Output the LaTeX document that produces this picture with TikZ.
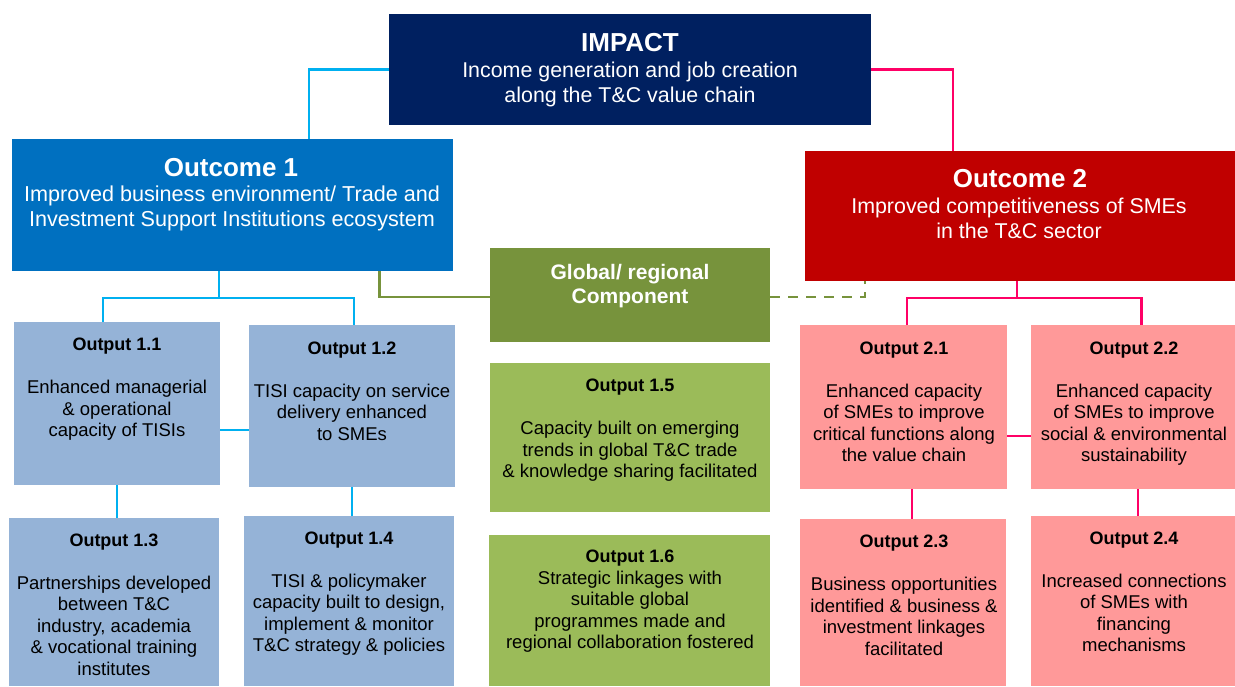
\documentclass[tikz,border=0pt]{standalone}
\usepackage{fontspec}
\setmainfont{Liberation Sans}

\definecolor{impnavy}{HTML}{002060}
\definecolor{oneblue}{HTML}{0070C0}
\definecolor{linkblue}{HTML}{00B0F0}
\definecolor{outblue}{HTML}{95B3D7}
\definecolor{globgreen}{HTML}{77933C}
\definecolor{outgreen}{HTML}{9BBB59}
\definecolor{twored}{HTML}{C00000}
\definecolor{linkpink}{HTML}{FF0066}
\definecolor{outpink}{HTML}{FF9999}

% invisible rule that fixes the height of a node's first line
\newcommand\tstr{\rule{0pt}{0.8em}}
\newcommand\otitle[1]{{\fontsize{18}{21.5}\selectfont\bfseries #1}}

\begin{document}
\begin{tikzpicture}[x=1pt,y=-1pt,
  box/.style={fill=#1, draw=none, inner sep=0pt, outer sep=0pt, anchor=north west},
  txt/.style={anchor=north, inner sep=0pt, outer sep=0pt, align=center},
  bigtitle/.style={txt, text=white, font=\fontsize{26}{30}\selectfont\bfseries},
  subtitle/.style={txt, text=white, font=\fontsize{#1}{25}\selectfont},
  body/.style={txt, text=black, font=\fontsize{18.5}{21.5}\selectfont},
  bl/.style={draw=linkblue, line width=2.2pt},
  pk/.style={draw=linkpink, line width=2.2pt},
  gn/.style={draw=globgreen, line width=2.2pt},
]
\useasboundingbox (0,0) rectangle (1235,686);

% ---- boxes ----
\node[box=impnavy, minimum width=482pt, minimum height=111pt] (imp) at (389,14) {};
\node[box=oneblue, minimum width=441pt, minimum height=132pt] (oc1) at (12,139) {};
\node[box=twored, minimum width=430pt, minimum height=130pt] (oc2) at (805,151) {};
\node[box=globgreen, minimum width=280pt, minimum height=94pt] (glob) at (490,248) {};

\node[box=outblue, minimum width=206pt, minimum height=163pt] (o11) at (14,322) {};
\node[box=outblue, minimum width=206pt, minimum height=162pt] (o12) at (249,325) {};
\node[box=outblue, minimum width=210pt, minimum height=168pt] (o13) at (9,518) {};
\node[box=outblue, minimum width=210pt, minimum height=170pt] (o14) at (244,516) {};

\node[box=outgreen, minimum width=280pt, minimum height=149pt] (o15) at (490,363) {};
\node[box=outgreen, minimum width=281pt, minimum height=151pt] (o16) at (489,535) {};

\node[box=outpink, minimum width=207pt, minimum height=164pt] (o21) at (800,325) {};
\node[box=outpink, minimum width=204pt, minimum height=164pt] (o22) at (1031,325) {};
\node[box=outpink, minimum width=206pt, minimum height=167pt] (o23) at (800,519) {};
\node[box=outpink, minimum width=204pt, minimum height=170pt] (o24) at (1031,516) {};

% ---- junction points ----
\coordinate (bj1) at (219,298);
\coordinate (bj2) at (1017,298);

% ---- blue connectors (outcome 1 branch) ----
\draw[bl] (imp.west) -| ([xshift=297pt]oc1.north west);
\draw[bl] ([xshift=207pt]oc1.south west) -- (bj1);
\draw[bl] ([xshift=89pt]o11.north west) |- (bj1) -| ([xshift=105pt]o12.north west);
\draw[bl] ([yshift=-108pt]o11.north east) -- ([yshift=-105pt]o12.north west);
\draw[bl] ([xshift=103pt]o11.south west) -- ([xshift=108pt]o13.north west);
\draw[bl] ([xshift=103pt]o12.south west) -- ([xshift=108pt]o14.north west);

% ---- pink connectors (outcome 2 branch) ----
\draw[pk] (imp.east) -| ([xshift=148pt]oc2.north west);
\draw[pk] ([xshift=212pt]oc2.south west) -- (bj2);
\draw[pk] ([xshift=107pt]o21.north west) |- (bj2) -| ([xshift=110.5pt]o22.north west);
\draw[pk] ([yshift=-111pt]o21.north east) -- ([yshift=-111pt]o22.north west);
\draw[pk] ([xshift=112pt]o21.south west) -- ([xshift=112pt]o23.north west);
\draw[pk] ([xshift=107pt]o22.south west) -- ([xshift=107pt]o24.north west);

% ---- global component links ----
\draw[gn] ([xshift=367.5pt]oc1.south west) |- ([yshift=-49pt]glob.north west);
\draw[gn, dash pattern=on 10pt off 8pt] ([yshift=-49pt]glob.north east) -| ([xshift=60pt]oc2.south west);

% ---- texts ----
\node[bigtitle] (impT) at (630,30.9) {\tstr IMPACT};
\node[subtitle=21.4] (impS) at (630,60.2) {\tstr Income generation and job creation\\along the T\&C value chain};

\node[bigtitle] (oc1T) at (231,155.2) {\tstr Outcome 1};
\node[subtitle=21.6] (oc1S) at (232,184.4) {\tstr Improved business environment/ Trade and\\Investment Support Institutions ecosystem};

\node[bigtitle] (oc2T) at (1020,166.9) {\tstr Outcome 2};
\node[subtitle=21.4] (oc2S) at (1019,196.2) {\tstr Improved competitiveness of SMEs\\in the T\&C sector};

\node[txt, text=white, font=\fontsize{21}{24}\selectfont\bfseries] (globT) at (630,262.5) {\tstr Global/ regional\\Component};

\node[body] (o11T) at (117,335.9) {\tstr\otitle{Output 1.1}\\[21.5pt]Enhanced managerial\\\& operational\\capacity of TISIs};
\node[body] (o12T) at (352,339.2) {\tstr\otitle{Output 1.2}\\[21.5pt]TISI capacity on service\\delivery enhanced\\to SMEs};
\node[body] (o13T) at (114,531.2) {\tstr\otitle{Output 1.3}\\[21.5pt]Partnerships developed\\between T\&C\\industry, academia\\\& vocational training\\institutes};
\node[body] (o14T) at (349,529.5) {\tstr\otitle{Output 1.4}\\[21.5pt]TISI \& policymaker\\capacity built to design,\\implement \& monitor\\T\&C strategy \& policies};

\node[body] (o15T) at (630,376.9) {\tstr\otitle{Output 1.5}\\[21.5pt]Capacity built on emerging\\trends in global T\&C trade\\\& knowledge sharing facilitated};
\node[body] (o16T) at (630,547.9) {\tstr\otitle{Output 1.6}\\Strategic linkages with\\suitable global\\programmes made and\\regional collaboration fostered};

\node[body] (o21T) at (904,339.2) {\tstr\otitle{Output 2.1}\\[21.5pt]Enhanced capacity\\of SMEs to improve\\critical functions along\\the value chain};
\node[body] (o22T) at (1134,339.2) {\tstr\otitle{Output 2.2}\\[21.5pt]Enhanced capacity\\of SMEs to improve\\social \& environmental\\sustainability};
\node[body] (o23T) at (904,532.9) {\tstr\otitle{Output 2.3}\\[21.5pt]Business opportunities\\identified \& business \&\\investment linkages\\facilitated};
\node[body] (o24T) at (1134,529.2) {\tstr\otitle{Output 2.4}\\[21.5pt]Increased connections\\of SMEs with\\financing\\mechanisms};

\end{tikzpicture}
\end{document}
